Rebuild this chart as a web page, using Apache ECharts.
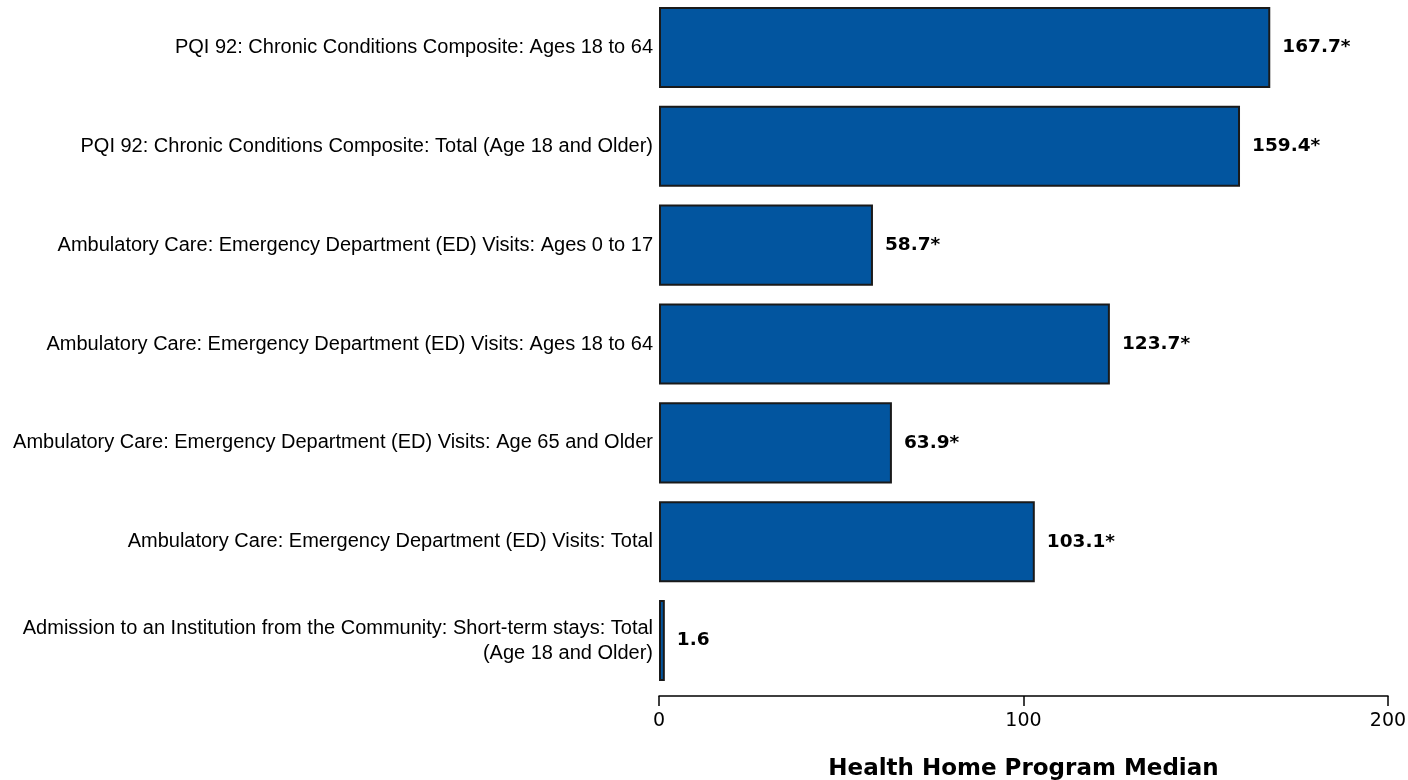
<!DOCTYPE html>
<html>
<head>
<meta charset="utf-8">
<script src="https://cdn.jsdelivr.net/npm/echarts@6/dist/echarts.min.js"></script>
<style>
  html, body { margin: 0; padding: 0; background: #fff; }
  #chart { width: 1408px; height: 780px; }
</style>
</head>
<body>
<div id="chart"></div>
<script>
// categories top to bottom
const categories = [
  "PQI 92: Chronic Conditions Composite: Ages 18 to 64",
  "PQI 92: Chronic Conditions Composite: Total (Age 18 and Older)",
  "Ambulatory Care: Emergency Department (ED) Visits: Ages 0 to 17",
  "Ambulatory Care: Emergency Department (ED) Visits: Ages 18 to 64",
  "Ambulatory Care: Emergency Department (ED) Visits: Age 65 and Older",
  "Ambulatory Care: Emergency Department (ED) Visits: Total",
  "Admission to an Institution from the Community: Short-term stays: Total\n(Age 18 and Older)"
];
const medians = [167.7, 159.4, 58.7, 123.7, 63.9, 103.1, 1.6];
// significance flag shown as "*"
const significant = [true, true, true, true, true, true, false];
const xTicks = [0, 100, 200];

const chart = echarts.init(document.getElementById("chart"));

chart.setOption({
  backgroundColor: "#ffffff",
  animation: false,
  grid: {
    left: 659,
    right: 20,
    top: -2,
    bottom: 90,
    outerBoundsMode: "none",
    containLabel: false
  },
  xAxis: {
    type: "value",
    min: xTicks[0],
    max: xTicks[xTicks.length - 1],
    interval: 100,
    offset: 6,
    name: "Health Home Program Median",
    nameLocation: "middle",
    nameGap: 62,
    nameTextStyle: {
      fontFamily: "DejaVu Sans",
      fontWeight: "bold",
      fontSize: 23,
      color: "#000"
    },
    axisLine: { show: true, lineStyle: { color: "#000", width: 1.5 } },
    axisTick: { show: true, length: 10, inside: false, lineStyle: { color: "#000", width: 1.5 } },
    axisLabel: {
      fontFamily: "DejaVu Sans",
      fontSize: 19,
      color: "#000",
      margin: 16
    },
    splitLine: { show: false }
  },
  yAxis: {
    type: "category",
    data: categories,
    inverse: true,
    axisLine: { show: false },
    axisTick: { show: false },
    axisLabel: {
      fontFamily: "Liberation Sans",
      fontSize: 20,
      color: "#000",
      margin: 6,
      align: "right",
      lineHeight: 25
    }
  },
  series: [
    {
      type: "bar",
      data: medians,
      barCategoryGap: "18%",
      itemStyle: {
        color: "#02559f",
        borderColor: "#1a1a1a",
        borderWidth: 2
      },
      label: {
        show: true,
        position: "right",
        distance: 12,
        fontFamily: "DejaVu Sans",
        fontWeight: "bold",
        fontSize: 18.5,
        color: "#000",
        formatter: (p) => p.value.toFixed(1) + (significant[p.dataIndex] ? "*" : "")
      }
    }
  ]
});
</script>
</body>
</html>
